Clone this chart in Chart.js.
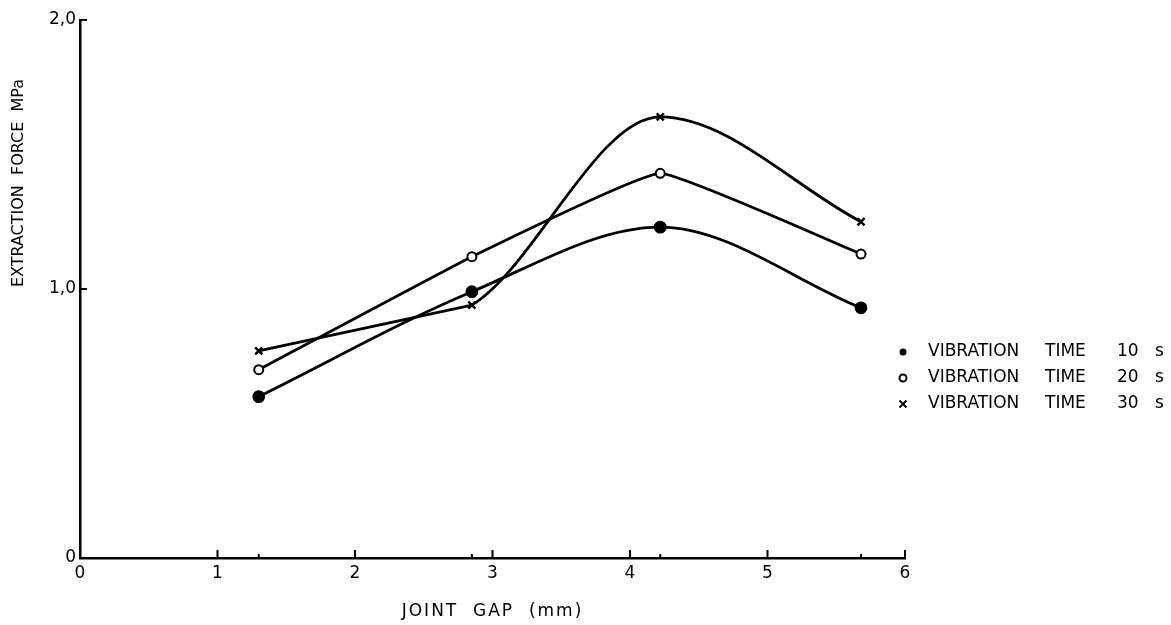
<!DOCTYPE html>
<html>
<head>
<meta charset="utf-8">
<script src="https://cdn.jsdelivr.net/npm/chart.js@4.4.1/dist/chart.umd.min.js"></script>
<style>
  body { margin: 0; background: #fff; }
  canvas { display: block; }
</style>
</head>
<body>
<canvas id="myChart" width="1171" height="625"></canvas>
<script>
// joint gap (mm) of the measured points
const jointGap = [1.3, 2.85, 4.22, 5.68];
// extraction force (MPa) for each vibration time
const force10 = [0.60, 0.99, 1.23, 0.93];
const force20 = [0.70, 1.12, 1.43, 1.13];
const force30 = [0.77, 0.94, 1.64, 1.25];
const seriesLabels = ['VIBRATION TIME 10 s', 'VIBRATION TIME 20 s', 'VIBRATION TIME 30 s'];
const xTickLabels = ['0', '1', '2', '3', '4', '5', '6'];
const yTickLabels = ['0', '1,0', '2,0'];

const FONT = 'DejaVu Sans';

function pts(vals) {
    return jointGap.map((x, i) => ({ x: x, y: vals[i] }));
}

function marker(ctx, kind, x, y, r) {
    ctx.save();
    ctx.strokeStyle = '#000';
    ctx.fillStyle = '#000';
    ctx.lineWidth = 2;
    ctx.beginPath();
    if (kind === 0) {
        ctx.arc(x, y, r, 0, Math.PI * 2);
        ctx.fill();
    } else if (kind === 1) {
        ctx.arc(x, y, r, 0, Math.PI * 2);
        ctx.stroke();
    } else {
        ctx.moveTo(x - r, y - r); ctx.lineTo(x + r, y + r);
        ctx.moveTo(x - r, y + r); ctx.lineTo(x + r, y - r);
        ctx.stroke();
    }
    ctx.restore();
}

// ticks pointing inwards, axis titles and the legend
const extras = {
    id: 'extras',
    afterDraw(chart) {
        const ctx = chart.ctx;
        const xs = chart.scales.x;
        const ys = chart.scales.y;
        const area = chart.chartArea;
        ctx.save();
        ctx.strokeStyle = '#000';
        ctx.lineWidth = 2;
        ctx.beginPath();
        for (let v = 1; v < xTickLabels.length; v++) {
            const px = xs.getPixelForValue(v);
            ctx.moveTo(px, area.bottom); ctx.lineTo(px, area.bottom - 8);
        }
        jointGap.forEach(g => {
            const px = xs.getPixelForValue(g);
            ctx.moveTo(px, area.bottom); ctx.lineTo(px, area.bottom - 4);
        });
        for (let v = 1; v < yTickLabels.length; v++) {
            const py = ys.getPixelForValue(v);
            ctx.moveTo(area.left, py); ctx.lineTo(area.left + 7, py);
        }
        ctx.stroke();

        ctx.fillStyle = '#000';
        ctx.textAlign = 'center';
        ctx.textBaseline = 'middle';
        ctx.font = '17px "' + FONT + '"';
        ctx.letterSpacing = '2px';
        ctx.fillText('JOINT  GAP  (mm)', (area.left + area.right) / 2, 612);
        ctx.letterSpacing = '0px';

        ctx.font = '16px "' + FONT + '"';
        ctx.save();
        ctx.translate(19, 183);
        ctx.rotate(-Math.PI / 2);
        ctx.fillText('EXTRACTION  FORCE  MPa', 0, 0);
        ctx.restore();

        ctx.font = '17px "' + FONT + '"';
        ctx.textAlign = 'left';
        const cols = [928, 1045, 1117, 1155];
        const rows = [352, 378, 404];
        seriesLabels.forEach((lab, i) => {
            marker(ctx, i, 903, rows[i], 3.5);
            lab.split(' ').forEach((w, j) => ctx.fillText(w, cols[j], rows[i]));
        });
        ctx.restore();
    }
};

const ctx = document.getElementById('myChart');

new Chart(ctx, {
    type: 'line',
    data: {
        datasets: [{
            label: seriesLabels[0],
            data: pts(force10),
            borderColor: '#000',
            borderWidth: 2.8,
            cubicInterpolationMode: 'monotone',
            pointStyle: 'circle',
            pointRadius: 5,
            pointBackgroundColor: '#000',
            pointBorderColor: '#000'
        }, {
            label: seriesLabels[1],
            data: pts(force20),
            borderColor: '#000',
            borderWidth: 2.8,
            tension: 0.1,
            pointStyle: 'circle',
            pointRadius: 4.5,
            pointBorderWidth: 2,
            pointBackgroundColor: '#fff',
            pointBorderColor: '#000'
        }, {
            label: seriesLabels[2],
            data: pts(force30),
            borderColor: '#000',
            borderWidth: 2.8,
            cubicInterpolationMode: 'monotone',
            // first stretch is drawn straight by the next dataset
            segment: { borderColor: c => c.p0DataIndex === 0 ? 'rgba(0,0,0,0)' : undefined },
            pointStyle: 'crossRot',
            pointRadius: 5,
            pointBorderWidth: 2.5,
            pointBorderColor: '#000'
        }, {
            label: 'straight part 30 s',
            data: pts(force30).slice(0, 2),
            borderColor: '#000',
            borderWidth: 2.8,
            tension: 0,
            pointRadius: 0
        }]
    },
    plugins: [extras],
    options: {
        responsive: false,
        animation: false,
        events: [],
        layout: { padding: { left: 0, top: 20, right: 266, bottom: 0 } },
        plugins: {
            legend: { display: false },
            tooltip: { enabled: false }
        },
        scales: {
            x: {
                type: 'linear',
                min: 0,
                max: 6,
                afterFit: s => { s.height = 67; },
                grid: { display: true, drawOnChartArea: false, drawTicks: false },
                border: { display: true, color: '#000', width: 2.5 },
                ticks: {
                    stepSize: 1,
                    padding: 5,
                    color: '#000',
                    font: { family: FONT, size: 17 },
                    callback: (v, i) => xTickLabels[i]
                }
            },
            y: {
                min: 0,
                max: 2,
                afterFit: s => { s.width = 80; },
                grid: { display: true, drawOnChartArea: false, drawTicks: false },
                border: { display: true, color: '#000', width: 2.5 },
                ticks: {
                    stepSize: 1,
                    padding: 4,
                    color: '#000',
                    font: { family: FONT, size: 17 },
                    callback: (v, i) => yTickLabels[i]
                }
            }
        }
    }
});
</script>
</body>
</html>
